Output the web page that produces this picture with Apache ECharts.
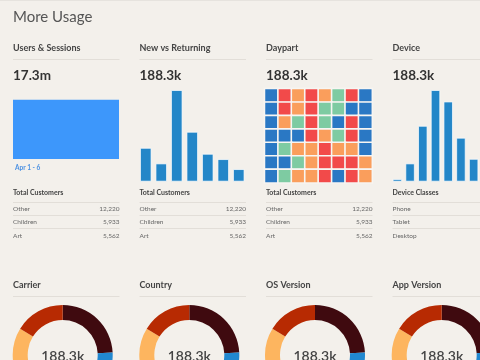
<!DOCTYPE html>
<html><head><meta charset="utf-8">
<script src="https://cdn.jsdelivr.net/npm/echarts@6/dist/echarts.min.js"></script>
<style>html,body{margin:0;padding:0;background:#f3f0eb}#c{width:480px;height:360px}</style>
</head><body><div id="c"></div>
<script>
// ---- data ----
const pageTitle = 'More Usage';
const topTitles = ['Users & Sessions', 'New vs Returning', 'Daypart', 'Device'];
const topTotals = ['17.3m', '188.3k', '188.3k', '188.3k'];
const sessionsDays = ['Apr 1', 'Apr 6'];
const sessionsValues = [1, 1];
const sessionsRangeLabel = 'Apr 1 - 6';
const newReturningCats = ['1', '2', '3', '4', '5', '6', '7'];
const newReturningValues = [37, 20, 100, 54.5, 30.5, 24.7, 13.8];
const deviceCats = ['1', '2', '3', '4', '5', '6', '7'];
const deviceValues = [3, 20, 61, 100, 87.5, 48, 25];
const daypartHours = ['1', '2', '3', '4', '5', '6', '7', '8'];
const daypartDays = ['1', '2', '3', '4', '5', '6', '7'];
// level per cell: 0 = blue, 1 = red, 2 = orange, 3 = green
const daypartLevels = [
  [0, 1, 2, 1, 2, 3, 1, 0],
  [0, 1, 2, 1, 3, 3, 0, 0],
  [0, 2, 3, 1, 3, 0, 1, 0],
  [0, 0, 0, 1, 2, 3, 1, 0],
  [0, 3, 2, 2, 1, 2, 2, 0],
  [0, 0, 3, 2, 1, 1, 1, 2],
  [0, 3, 2, 2, 1, 0, 1, 2]
];
const tableHeaders = ['Total Customers', 'Total Customers', 'Total Customers', 'Device Classes'];
const customerLabels = ['Other', 'Children', 'Art'];
const customerValues = [12220, 5933, 5562];
const deviceClassLabels = ['Phone', 'Tablet', 'Desktop'];
const bottomTitles = ['Carrier', 'Country', 'OS Version', 'App Version'];
const bottomTotals = ['188.3k', '188.3k', '188.3k', '188.3k'];
const donutNames = ['A', 'B', 'C', 'D'];
const donutValues = [24.2, 25, 34.6, 16.2];

// ---- style / layout ----
const FONT = 'Lato, "Open Sans", sans-serif';
const colLeft = [13, 139.5, 266, 392.5];
const colW = 106.5;
const sepColor = '#e2ded8';
const donutColors = ['#3f0a0f', '#2188d0', '#fdb55f', '#b72a02'];
const dayColors = ['#2a78c4', '#f24a4a', '#fa9e5c', '#7ecba2'];

const chart = echarts.init(document.getElementById('c'), null, {renderer: 'canvas'});
const g = [];
function text(x, y, t, font, fill, align) {
  g.push({type: 'text', silent: true, style: {x: x, y: y, text: t, font: font, fill: fill, align: align || 'left', verticalAlign: 'middle'}});
}
function hline(x1, x2, y) {
  g.push({type: 'line', silent: true, shape: {x1: x1, y1: y, x2: x2, y2: y}, style: {stroke: sepColor, lineWidth: 1}});
}
text(13, 17, pageTitle, 'normal 15px ' + FONT, '#555');
g.push({type: 'line', silent: true, shape: {x1: 0, y1: 0.5, x2: 480, y2: 0.5}, style: {stroke: '#e6e3de', lineWidth: 1}});
topTitles.forEach((t, i) => {
  text(colLeft[i], 48, t, 'bold 9px ' + FONT, '#444');
  hline(colLeft[i], colLeft[i] + colW, 59.5);
  text(colLeft[i], 76, topTotals[i], 'bold 13.5px ' + FONT, '#333');
});
text(15, 167.5, sessionsRangeLabel, 'bold 6.5px ' + FONT, '#4a90e2');
tableHeaders.forEach((h, i) => {
  const L = colLeft[i], R = L + colW;
  text(L, 193, h, 'bold 7px ' + FONT, '#444');
  const labels = i === 3 ? deviceClassLabels : customerLabels;
  const rowsY = [208.5, 222, 235.5];
  hline(L, R, 202.5); hline(L, R, 215.5); hline(L, R, 228.5);
  labels.forEach((lab, k) => {
    text(L, rowsY[k], lab, '6.5px ' + FONT, '#666');
    if (i !== 3) text(R, rowsY[k], customerValues[k].toLocaleString('en-US'), '6.5px ' + FONT, '#666', 'right');
  });
});
bottomTitles.forEach((t, i) => {
  text(colLeft[i], 285, t, 'bold 9px ' + FONT, '#444');
  hline(colLeft[i], colLeft[i] + colW, 296.5);
});

const heatData = [];
daypartLevels.forEach((row, r) => row.forEach((v, c) => heatData.push([c, r, v])));

const grids = [
  {left: 13, top: 99.5, width: 106, height: 59.5},
  {left: 138, top: 90, width: 108.5, height: 91.7},
  {left: 264.7, top: 88.8, width: 107.4, height: 94},
  {left: 391, top: 90, width: 108.5, height: 91.7}
];
const series = [
  {type: 'line', xAxisIndex: 0, yAxisIndex: 0, data: sessionsValues, symbol: 'none', lineStyle: {width: 0}, areaStyle: {color: '#3d97fb', opacity: 1}, silent: true},
  {type: 'bar', xAxisIndex: 1, yAxisIndex: 1, data: newReturningValues, barCategoryGap: '25%', itemStyle: {color: '#2386c8', borderColor: 'rgba(255,255,255,0.7)', borderWidth: 1}, silent: true},
  {type: 'heatmap', xAxisIndex: 2, yAxisIndex: 2, data: heatData, itemStyle: {borderColor: '#f7f5f2', borderWidth: 1.6}, silent: true},
  {type: 'bar', xAxisIndex: 3, yAxisIndex: 3, data: deviceValues, barCategoryGap: '25%', itemStyle: {color: '#2386c8', borderColor: 'rgba(255,255,255,0.7)', borderWidth: 1}, silent: true}
];
const donutCx = [62.7, 189.3, 315, 441.7];
donutCx.forEach((cx, i) => {
  series.push({type: 'pie', center: [cx, 355], radius: [35, 50], startAngle: 90, clockwise: true, silent: true,
    label: {show: false}, labelLine: {show: false},
    data: donutNames.map((n, k) => ({name: n, value: donutValues[k], itemStyle: {color: donutColors[k]}}))});
  text(cx, 356, bottomTotals[i], '600 14px ' + FONT, '#444', 'center');
});

chart.setOption({
  backgroundColor: '#f3f0eb',
  animation: false,
  grid: grids,
  xAxis: [
    {gridIndex: 0, type: 'category', data: sessionsDays, boundaryGap: false, show: false},
    {gridIndex: 1, type: 'category', data: newReturningCats, show: false},
    {gridIndex: 2, type: 'category', data: daypartHours, show: false},
    {gridIndex: 3, type: 'category', data: deviceCats, show: false}
  ],
  yAxis: [
    {gridIndex: 0, type: 'value', min: 0, max: 1, show: false},
    {gridIndex: 1, type: 'value', min: 0, max: 100, show: false},
    {gridIndex: 2, type: 'category', data: daypartDays, inverse: true, show: false},
    {gridIndex: 3, type: 'value', min: 0, max: 100, show: false}
  ],
  visualMap: [{type: 'piecewise', show: false, seriesIndex: 2, dimension: 2,
    pieces: dayColors.map((c, k) => ({value: k, color: c}))}],
  series: series,
  graphic: {elements: g}
});
</script></body></html>
